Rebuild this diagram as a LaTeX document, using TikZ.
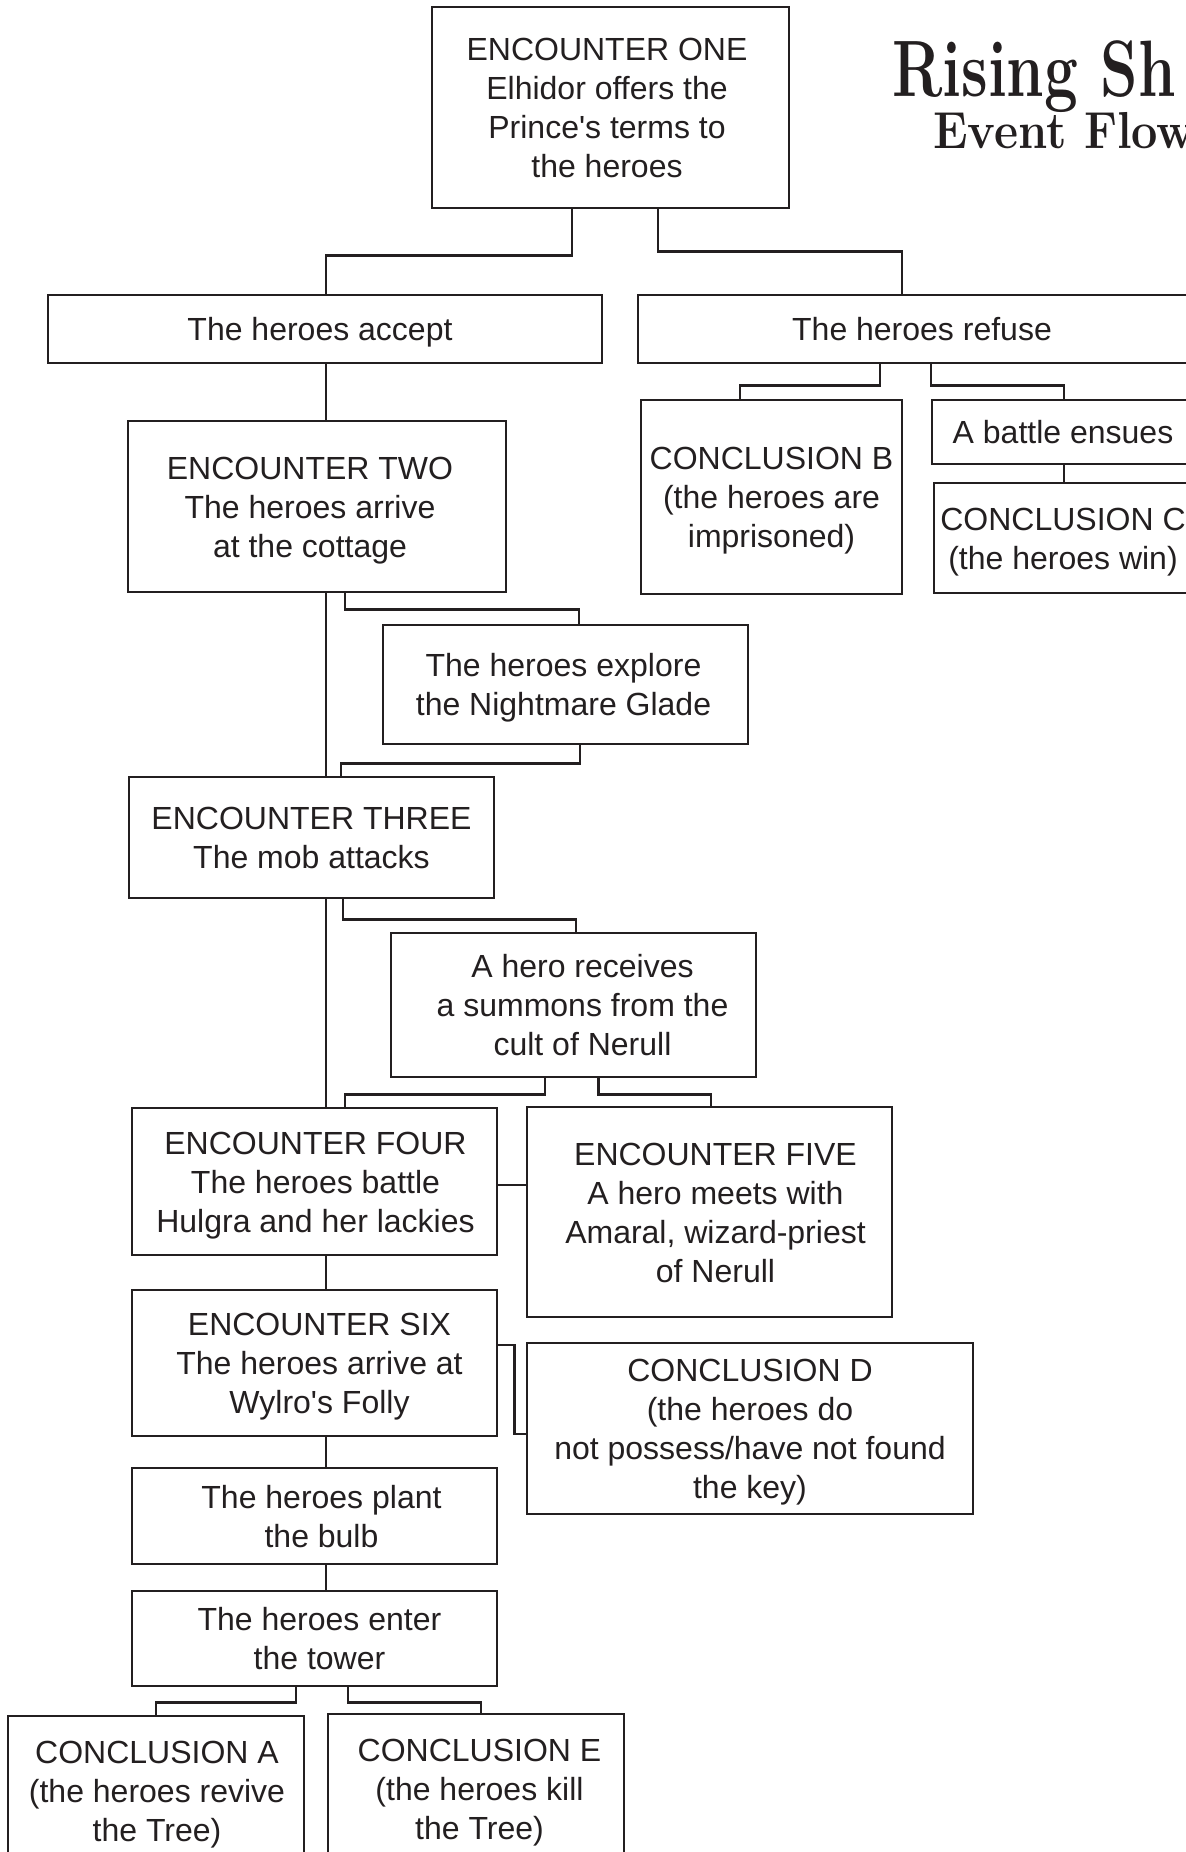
\documentclass[tikz,border=0pt]{standalone}
\usepackage{fontspec}
\newfontfamily\boxfont{Liberation Sans}
\definecolor{ink}{HTML}{231F20}
\newcommand\bt[2]{\hspace*{#1}\begin{tabular}{@{}c@{}}\rule{0pt}{17.5pt}#2\end{tabular}}
\tikzset{
  bx/.style={draw=ink, text=ink, line width=1.3pt, inner sep=0pt,
    font=\boxfont\fontsize{16}{19.5}\selectfont},
  ln/.style={draw=ink, line width=1.3pt},
  ttl/.style={anchor=base west, inner sep=0pt, text=ink}
}
\begin{document}
\begin{tikzpicture}[x=0.5pt,y=-0.5pt]
\useasboundingbox (0,0) rectangle (1186,1852);
\clip (0,0) rectangle (1186,1852);
\fill[white] (0,0) rectangle (1186,1852);

% title
\node[ttl] (title) at (892,96)
  {\rlap{\hspace*{20.5pt}\raisebox{-26pt}{\scalebox{0.9}[1]{\fontsize{26}{26}\selectfont\bfseries Event Flow}}}%
   \scalebox{0.75}[1]{\fontsize{40}{40}\selectfont\bfseries Rising Sh}};

% boxes
\node[bx, minimum width=178.5pt, minimum height=100.5pt] (e1) at (610.5,107.5)
  {\bt{-3.5pt}{ENCOUNTER ONE\\Elhidor offers the\\Prince's terms to\\the heroes}};
\node[bx, minimum width=277pt, minimum height=34pt] (acc) at (325,329) {\bt{-5pt}{The heroes accept}};
\node[bx, minimum width=283pt, minimum height=34pt] (ref) at (921,329) {\bt{1pt}{The heroes refuse}};
\node[bx, minimum width=189pt, minimum height=85.5pt] (e2) at (317,506.5)
  {\bt{-7pt}{ENCOUNTER TWO\\The heroes arrive\\at the cottage}};
\node[bx, minimum width=130.5pt, minimum height=97pt] (cb) at (771.5,497)
  {\bt{0pt}{CONCLUSION B\\(the heroes are\\imprisoned)}};
\node[bx, minimum width=131pt, minimum height=32pt] (bat) at (1063,432) {\bt{0pt}{A battle ensues}};
\node[bx, minimum width=129pt, minimum height=55pt] (cc) at (1063,538)
  {\bt{0pt}{CONCLUSION C\\(the heroes win)}};
\node[bx, minimum width=182.5pt, minimum height=59.5pt] (exp) at (565.5,684.5)
  {\bt{-2pt}{The heroes explore\\the Nightmare Glade}};
\node[bx, minimum width=182.5pt, minimum height=60.5pt] (e3) at (311.5,837.5)
  {\bt{0pt}{ENCOUNTER THREE\\The mob attacks}};
\node[bx, minimum width=182.5pt, minimum height=72pt] (sum) at (573.5,1005)
  {\bt{9pt}{A hero receives\\a summons from the\\cult of Nerull}};
\node[bx, minimum width=182.5pt, minimum height=73.5pt] (e4) at (314.5,1181.5)
  {\bt{1pt}{ENCOUNTER FOUR\\The heroes battle\\Hulgra and her lackies}};
\node[bx, minimum width=182.5pt, minimum height=105pt] (e5) at (709.5,1212)
  {\bt{6pt}{ENCOUNTER FIVE\\A hero meets with\\Amaral, wizard-priest\\of Nerull}};
\node[bx, minimum width=182.5pt, minimum height=73pt] (e6) at (314.5,1363)
  {\bt{5pt}{ENCOUNTER SIX\\The heroes arrive at\\Wylro's Folly}};
\node[bx, minimum width=223pt, minimum height=85.5pt] (cd) at (750,1428.5)
  {\bt{0pt}{CONCLUSION D\\(the heroes do\\not possess/have not found\\the key)}};
\node[bx, minimum width=182.5pt, minimum height=48pt] (pl) at (314.5,1516)
  {\bt{7pt}{The heroes plant\\the bulb}};
\node[bx, minimum width=182.5pt, minimum height=47.5pt] (tw) at (314.5,1638.5)
  {\bt{5pt}{The heroes enter\\the tower}};
\node[bx, minimum width=148pt, minimum height=75pt] (ca) at (156,1791)
  {\bt{1pt}{CONCLUSION A\\(the heroes revive\\the Tree)}};
\node[bx, minimum width=148pt, minimum height=75pt] (ce) at (476,1789)
  {\bt{3.5pt}{CONCLUSION E\\(the heroes kill\\the Tree)}};

% connectors
\coordinate (tx) at (326,0);
\draw[ln] ([xshift=-19.25pt]e1.south) -- ++(0,46) -| (acc.north -| tx);
\draw[ln] ([xshift=23.75pt]e1.south) -- ++(0,42) -| ([xshift=-9.5pt]ref.north);
\draw[ln] (acc.south -| tx) -- (e2.north -| tx);
\draw[ln] (e2.south -| tx) -- (e3.north -| tx);
\draw[ln] (e3.south -| tx) -- (e4.north -| tx);
\draw[ln] (e4.south -| tx) -- (e6.north -| tx);
\draw[ln] (e6.south -| tx) -- (pl.north -| tx);
\draw[ln] (pl.south -| tx) -- (tw.north -| tx);
\draw[ln] ([xshift=14pt]e2.south) -- ++(0,16) -| ([xshift=6.75pt]exp.north);
\draw[ln] ([xshift=7.25pt]exp.south) -- ++(0,18) -| ([xshift=14.75pt]e3.north);
\draw[ln] ([xshift=15.75pt]e3.south) -- ++(0,20) -| ([xshift=1.25pt]sum.north);
\draw[ln] ([xshift=-14.25pt]sum.south) -- ++(0,16) -| ([xshift=15.25pt]e4.north);
\draw[ln] ([xshift=12.5pt]sum.south) -- ++(0,16) -| ([xshift=0.75pt]e5.north);
\coordinate (j45) at ([yshift=-1.75pt]e4.east);
\draw[ln] (j45) -- (j45 -| e5.west);
\draw[ln] ([yshift=9pt]e6.east) -- ++(16,0) |- ([yshift=-2.75pt]cd.west);
\draw[ln] ([xshift=-9.25pt]tw.south) -- ++(0,15) -| (ca.north);
\draw[ln] ([xshift=16.75pt]tw.south) -- ++(0,15) -| ([xshift=2.5pt]ce.north);
\draw[ln] ([xshift=-20.5pt]ref.south) -- ++(0,21) -| ([xshift=-15.75pt]cb.north);
\draw[ln] ([xshift=5pt]ref.south) -- ++(0,21) -| ([xshift=0.5pt]bat.north);
\coordinate (bc) at ([xshift=0.5pt]bat.south);
\draw[ln] (bc) -- (bc |- cc.north);
\end{tikzpicture}
\end{document}
